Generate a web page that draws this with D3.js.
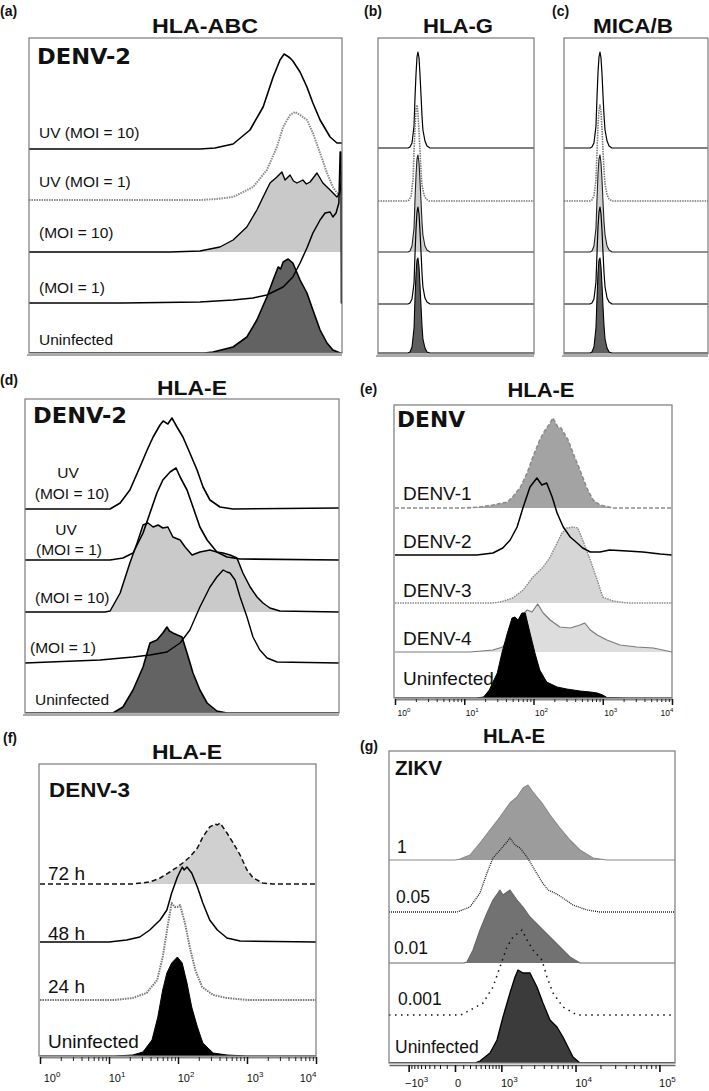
<!DOCTYPE html>
<html><head><meta charset="utf-8">
<script src="https://cdn.jsdelivr.net/npm/d3@7"></script>
<style>
body{margin:0;background:#fff}
svg{display:block}
text{font-family:"Liberation Sans",Arial,sans-serif;fill:#111}
</style>
</head><body>
<script>
// ---------------- DATA (x = channel / fluorescence, y = % of mode) ----------------
// (a) HLA-ABC, DENV-2  (unlabelled channel axis 0-1000)
const a_labels = ["UV (MOI = 10)", "UV (MOI = 1)", "(MOI = 10)", "(MOI = 1)", "Uninfected"];
const a_uvMoi10 = [[0,0],[546,0],[594,1],[652,5],[706,19],[748,42],[780,72],[802,89],[815,95],[825,93],[834,91],[843,88],[866,77],[888,62],[907,46],[930,29],[962,12],[984,6],[994,6],[1000,6]];
const a_uvMoi1 = [[0,0],[546,0],[600,1],[652,3],[716,13],[760,30],[792,53],[812,73],[834,85],[850,88],[866,85],[888,80],[907,67],[930,47],[952,27],[971,13],[984,7],[1000,5]];
const a_moi10 = [[0,0],[450,0],[546,1],[610,5],[652,12],[696,25],[728,42],[748,55],[770,69],[792,75],[808,80],[818,72],[834,77],[845,71],[856,69],[875,72],[886,68],[898,70],[920,79],[939,69],[962,62],[984,55],[994,60],[1000,80]];
const a_moi1 = [[0,0],[300,0],[546,1],[652,3],[716,5],[760,8],[812,16],[843,26],[866,40],[888,55],[907,70],[930,83],[946,90],[962,91],[971,86],[981,90],[990,100],[994,151],[997,151],[998,0],[1000,0]];
const a_uninf = [[0,0],[560,0],[588,1],[652,6],[696,16],[728,33],[760,56],[780,73],[796,86],[804,84],[812,91],[828,94],[843,90],[866,73],[888,60],[907,43],[930,23],[952,10],[971,3],[994,0],[1000,0]];

// (b) HLA-G
const b_uvMoi10 = [[0,0],[192,0],[205,1],[218,5],[231,22],[237,50],[244,75],[250,91],[256,96],[263,90],[269,74],[276,52],[282,32],[288,18],[301,7],[314,2],[333,0],[1000,0]];
const b_uvMoi1 = [[0,0],[186,0],[199,1],[212,5],[225,22],[231,50],[238,76],[244,92],[250,96],[256,88],[263,70],[270,48],[276,29],[282,16],[295,6],[308,2],[327,0],[1000,0]];
const b_moi10 = [[0,0],[192,0],[205,1],[218,6],[231,24],[237,52],[244,78],[250,93],[256,97],[263,89],[269,72],[276,50],[282,30],[288,17],[301,6],[314,2],[333,0],[1000,0]];
const b_moi1 = [[0,0],[192,0],[205,1],[218,5],[231,21],[237,49],[244,76],[250,92],[256,97],[263,90],[269,73],[276,51],[282,31],[288,17],[301,6],[314,2],[333,0],[1000,0]];
const b_uninf = [[0,0],[192,0],[205,1],[218,6],[231,25],[237,54],[244,80],[250,93],[256,95],[263,86],[269,68],[276,46],[282,27],[288,14],[301,5],[314,1],[333,0],[1000,0]];

// (c) MICA/B
const c_uvMoi10 = [[0,0],[181,0],[194,1],[208,5],[222,22],[229,50],[236,75],[243,91],[250,96],[257,90],[264,74],[271,52],[278,32],[285,18],[299,7],[313,2],[333,0],[1000,0]];
const c_uvMoi1 = [[0,0],[181,0],[194,1],[208,5],[222,21],[229,48],[236,75],[243,91],[250,96],[257,89],[264,72],[271,50],[278,30],[285,17],[299,6],[313,2],[333,0],[1000,0]];
const c_moi10 = [[0,0],[181,0],[194,1],[208,6],[222,24],[229,52],[236,78],[243,93],[250,97],[257,89],[264,72],[271,50],[278,30],[285,17],[299,6],[313,2],[333,0],[1000,0]];
const c_moi1 = [[0,0],[181,0],[194,1],[208,5],[222,22],[229,50],[236,77],[243,92],[250,97],[257,90],[264,73],[271,51],[278,31],[285,17],[299,6],[313,2],[333,0],[1000,0]];
const c_uninf = [[0,0],[181,0],[194,1],[208,6],[222,25],[229,54],[236,80],[243,93],[250,95],[257,86],[264,68],[271,46],[278,27],[285,14],[299,5],[313,1],[333,0],[1000,0]];

// (d) HLA-E, DENV-2
const d_labels = [["UV","(MOI = 10)"], ["UV","(MOI = 1)"], "(MOI = 10)", "(MOI = 1)", "Uninfected"];
const d_uvMoi10 = [[0,0],[271,0],[303,6],[334,19],[366,42],[389,59],[408,72],[430,84],[440,88],[455,85],[468,91],[484,82],[503,72],[525,56],[548,39],[567,22],[589,9],[621,2],[662,0],[1000,1]];
const d_uvMoi1 = [[0,0],[271,0],[312,2],[344,7],[376,27],[398,47],[420,67],[439,80],[462,88],[481,92],[494,83],[516,70],[535,53],[557,33],[580,20],[611,8],[643,3],[685,1],[1000,0]];
const d_moi10 = [[0,0],[255,0],[271,1],[303,19],[334,49],[357,69],[376,87],[392,89],[408,85],[424,87],[439,84],[455,85],[471,75],[494,72],[510,65],[532,57],[557,60],[589,62],[611,60],[631,59],[653,57],[675,54],[694,39],[717,25],[739,15],[758,9],[780,4],[812,1],[1000,0]];
const d_moi1 = [[0,0],[239,3],[344,6],[398,8],[452,11],[494,20],[525,33],[557,56],[589,76],[611,86],[631,93],[643,91],[653,90],[669,83],[685,66],[707,46],[726,26],[748,13],[771,5],[803,1],[1000,0]];
const d_uninf = [[0,0],[280,0],[312,6],[344,23],[376,46],[398,70],[420,73],[439,80],[452,86],[460,82],[471,80],[500,76],[516,60],[535,40],[557,23],[580,10],[611,2],[643,0],[1000,0]];

// (e) HLA-E, DENV serotypes (log fluorescence)
const e_labels = ["DENV-1", "DENV-2", "DENV-3", "DENV-4", "Uninfected"];
const e_denv1 = [[1,0],[10,0],[17,1],[26,3],[42,6],[50,11],[65,21],[81,35],[98,51],[123,68],[148,78],[174,85],[191,90],[224,81],[251,80],[269,76],[316,68],[372,55],[468,38],[589,20],[724,8],[912,3],[1413,0],[10000,0]];
const e_denv2 = [[1,0],[15,0],[20,1],[26,2],[36,7],[46,15],[58,28],[71,48],[89,68],[112,77],[132,70],[155,72],[186,58],[219,42],[269,28],[339,18],[427,12],[513,7],[661,3],[912,3],[1259,5],[2239,4],[3802,3],[6761,1],[10000,0]];
const e_denv3 = [[1,0],[25,0],[33,1],[50,5],[71,13],[98,26],[138,36],[174,46],[219,60],[257,70],[302,75],[372,76],[437,75],[513,63],[661,43],[832,23],[1000,6],[1413,2],[2239,0],[10000,0]];
const e_denv4 = [[1,0],[12,0],[18,1],[26,2],[36,5],[50,19],[65,35],[81,42],[95,40],[115,48],[138,39],[174,32],[240,25],[339,24],[468,27],[550,29],[661,22],[832,17],[1148,12],[1778,7],[3090,5],[5370,4],[10000,0]];
const e_uninf = [[1,0],[15,0],[19,1],[23,8],[30,25],[35,45],[42,65],[49,80],[54,81],[60,78],[68,85],[76,85],[89,65],[105,45],[123,28],[155,16],[219,11],[302,9],[468,7],[661,6],[832,5],[1000,3],[1148,0.5],[2239,0],[10000,0]];
const logTicks = [1, 10, 100, 1000, 10000];
const logTickExp = ["0", "1", "2", "3", "4"];

// (f) HLA-E, DENV-3 time course
const f_labels = ["72 h", "48 h", "24 h", "Uninfected"];
const f_72h = [[1,0],[22,0],[39,2],[55,6],[76,12],[98,17],[117,21],[148,27],[191,36],[229,47],[288,57],[347,60],[372,59],[407,61],[513,51],[631,41],[794,29],[1000,14],[1230,6],[1698,1],[2399,0],[10000,0]];
const f_48h = [[1,0],[10,0],[18,2],[28,5],[39,12],[55,22],[69,32],[81,49],[98,65],[115,75],[123,72],[135,75],[158,69],[191,55],[229,39],[288,22],[372,12],[513,4],[794,1],[10000,0]];
const f_24h = [[1,0],[12,0],[22,2],[35,7],[50,20],[60,43],[72,77],[81,97],[90,93],[98,93],[107,95],[126,77],[148,53],[178,30],[224,13],[324,5],[513,2],[1000,0],[10000,0]];
const f_uninf = [[1,0],[12,0],[22,1],[31,4],[42,16],[51,39],[60,66],[69,83],[81,93],[98,99],[115,93],[135,73],[158,49],[191,29],[229,13],[324,3],[513,1],[1000,0],[10000,0]];

// (g) HLA-E, ZIKV MOI (biexponential axis)
const g_labels = ["1", "0.05", "0.01", "0.001", "Uninfected"];
const g_moi1 = [[-1981,0],[0,0],[58,1],[200,5],[386,17],[630,30],[949,43],[1368,57],[1739,63],[2114,72],[2476,75],[2892,68],[3800,57],[4816,45],[6432,32],[8552,20],[11324,10],[16272,2],[23936,0],[152600,0]];
const g_moi005 = [[-1981,0],[22,0],[200,5],[386,19],[550,39],[717,54],[949,62],[1230,70],[1368,74],[1626,67],[1918,64],[2400,55],[2892,45],[3800,30],[4541,22],[5570,19],[7008,14],[9308,7],[13780,2],[19740,0],[152600,0]];
const g_moi001 = [[-1981,0],[110,0],[153,1],[251,13],[386,33],[550,50],[717,63],[949,73],[1063,68],[1368,73],[1739,63],[2114,56],[2636,46],[3578,36],[4816,26],[6432,16],[8552,6],[11324,0],[152600,0]];
const g_moi0001 = [[-1981,0],[58,0],[97,1],[453,12],[717,28],[949,48],[1230,68],[1519,78],[2047,85],[2400,75],[2892,65],[3800,55],[4405,38],[5256,22],[7008,8],[10416,0],[152600,0]];
const g_uninf = [[-1981,0],[280,0],[386,2],[630,10],[845,23],[1063,46],[1368,70],[1626,86],[1797,93],[2114,90],[2636,90],[3268,76],[3915,60],[4816,43],[5900,36],[7008,26],[9308,6],[11324,0],[152600,0]];
const biexTicks = [-1000, 0, 1000, 10000, 100000];
const biexLabels = [["−10","3"], ["0",""], ["10","3"], ["10","4"], ["10","5"]];

// ---------------- DRAWING ----------------
const svg = d3.select("body").append("svg").attr("width", 709).attr("height", 1091);
const defs = svg.append("defs");
const hScale = d3.scaleLinear().domain([0, 100]).range([0, 100]);

function drawPanel(p) {
  const g = svg.append("g");
  const cid = "clip-" + p.id;
  defs.append("clipPath").attr("id", cid).append("rect")
    .attr("x", p.x0).attr("y", p.y0 - 1).attr("width", p.x1 - p.x0).attr("height", p.y1 - p.y0 + 1);
  const gc = g.append("g").attr("clip-path", `url(#${cid})`);
  const area = c => d3.area().x(d => p.x(d[0])).y0(c.base).y1(d => c.base - hScale(d[1]));
  const line = c => d3.line().x(d => p.x(d[0])).y(d => c.base - hScale(d[1]));
  const drawFill = c => { if (c.fill) gc.append("path").datum(c.data).attr("d", area(c)).attr("fill", c.fill); };
  const drawStroke = c => gc.append("path").datum(c.data).attr("d", line(c))
      .attr("fill", "none").attr("stroke", c.stroke).attr("stroke-width", c.sw)
      .attr("stroke-dasharray", c.dash || null).attr("stroke-linejoin", "round");
  const normal = p.curves.filter(c => !c.top);
  normal.forEach(drawFill);
  normal.forEach(drawStroke);
  p.curves.filter(c => c.top).forEach(c => { drawFill(c); drawStroke(c); });
  g.append("rect").attr("x", p.x0).attr("y", p.y0).attr("width", p.x1 - p.x0).attr("height", p.y1 - p.y0)
    .attr("fill", "none").attr("stroke", "#7a7a7a").attr("stroke-width", 1.2);
  if (p.doubleBottom) {
    g.append("line").attr("x1", p.x0 - 2).attr("x2", p.x1).attr("y1", p.y1 + 2).attr("y2", p.y1 + 2)
      .attr("stroke", "#555").attr("stroke-width", 1);
  }
  // letter + title
  svg.append("text").attr("x", p.letter[0]).attr("y", p.letter[1]).text(p.letter[2])
    .attr("font-size", 14).attr("font-weight", "bold");
  svg.append("text").attr("x", p.title[0]).attr("y", p.title[1]).attr("text-anchor", "middle")
    .attr("font-size", 21).attr("font-weight", "bold").attr("textLength", p.title[3])
    .attr("lengthAdjust", "spacingAndGlyphs").text(p.title[2]);
  return g;
}

function label(x, y, t, size, opts = {}) {
  const el = svg.append("text").attr("x", x).attr("y", y).attr("font-size", size).text(t);
  if (opts.anchor) el.attr("text-anchor", opts.anchor);
  if (opts.bold) el.attr("font-weight", "bold");
  if (opts.family) el.style("font-family", opts.family);
  if (opts.len) el.attr("textLength", opts.len).attr("lengthAdjust", "spacingAndGlyphs");
  return el;
}

// -------- (a) --------
const xa = d3.scaleLinear().domain([0, 1000]).range([29, 342]);
drawPanel({
  id: "a", x: xa, x0: 29, x1: 342, y0: 38, y1: 353, doubleBottom: true,
  letter: [0, 16, "(a)"], title: [205, 33, "HLA-ABC", 106],
  curves: [
    {data: a_uvMoi10, base: 149, stroke: "#000", sw: 1.6},
    {data: a_uvMoi1, base: 200, stroke: "#8a8a8a", sw: 2, dash: "1.5,1"},
    {data: a_moi10, base: 252, fill: "#c9c9c9", stroke: "#000", sw: 1.4},
    {data: a_moi1, base: 303, stroke: "#000", sw: 1.5},
    {data: a_uninf, base: 353, fill: "#626262", stroke: "#000", sw: 1.6}
  ]
});
label(37, 64, "DENV-2", 21, {bold: true, family: "'DejaVu Sans'", len: 94});
[138, 187, 238, 293, 345].forEach((y, i) => label(39, y, a_labels[i], 15.5));

// -------- (b) --------
const xb = d3.scaleLinear().domain([0, 1000]).range([378, 534]);
drawPanel({
  id: "b", x: xb, x0: 378, x1: 534, y0: 38, y1: 354, doubleBottom: true,
  letter: [364, 16, "(b)"], title: [458, 33, "HLA-G", 70],
  curves: [
    {data: b_uvMoi10, base: 148, stroke: "#000", sw: 1.2},
    {data: b_uvMoi1, base: 201, stroke: "#777", sw: 1.6, dash: "1.5,1"},
    {data: b_moi10, base: 252, fill: "#cfcfcf", stroke: "#222", sw: 1.1},
    {data: b_moi1, base: 304, stroke: "#000", sw: 1.2},
    {data: b_uninf, base: 353, fill: "#5e5e5e", stroke: "#000", sw: 1.1}
  ]
});

// -------- (c) --------
const xc = d3.scaleLinear().domain([0, 1000]).range([564, 708]);
drawPanel({
  id: "c", x: xc, x0: 564, x1: 708, y0: 38, y1: 354, doubleBottom: true,
  letter: [552, 16, "(c)"], title: [633, 33, "MICA/B", 80],
  curves: [
    {data: c_uvMoi10, base: 148, stroke: "#000", sw: 1.2},
    {data: c_uvMoi1, base: 201, stroke: "#777", sw: 1.6, dash: "1.5,1"},
    {data: c_moi10, base: 252, fill: "#cfcfcf", stroke: "#222", sw: 1.1},
    {data: c_moi1, base: 304, stroke: "#000", sw: 1.2},
    {data: c_uninf, base: 353, fill: "#5e5e5e", stroke: "#000", sw: 1.1}
  ]
});

// -------- (d) --------
const xd = d3.scaleLinear().domain([0, 1000]).range([25, 339]);
drawPanel({
  id: "d", x: xd, x0: 25, x1: 339, y0: 399, y1: 713, doubleBottom: true,
  letter: [0, 385, "(d)"], title: [192, 395, "HLA-E", 70],
  curves: [
    {data: d_uvMoi10, base: 509, stroke: "#000", sw: 1.6},
    {data: d_uvMoi1, base: 560, stroke: "#000", sw: 1.6},
    {data: d_moi10, base: 612, fill: "#cacaca", stroke: "#000", sw: 1.5},
    {data: d_moi1, base: 663, stroke: "#000", sw: 1.4},
    {data: d_uninf, base: 713, fill: "#636363", stroke: "#000", sw: 1.6}
  ]
});
label(33, 423, "DENV-2", 21, {bold: true, family: "'DejaVu Sans'", len: 94});
label(68, 478, d_labels[0][0], 15.5, {anchor: "middle"});
label(72, 499, d_labels[0][1], 15.5, {anchor: "middle"});
label(66, 535, d_labels[1][0], 15.5, {anchor: "middle"});
label(69, 555, d_labels[1][1], 15.5, {anchor: "middle"});
label(35, 603, d_labels[2], 15.5);
label(30, 653, d_labels[3], 15.5);
label(35, 705, d_labels[4], 15.5);

// axis helper
function logAxis(x, y, ticks, exps, opt) {
  const minors = [];
  for (let k = 0; k < ticks.length - 1; k++) for (let m = 2; m <= 9; m++) minors.push(ticks[k] * m);
  const gMin = svg.append("g").attr("transform", `translate(0,${y})`)
    .call(d3.axisBottom(x).tickValues(minors).tickSize(opt.minor).tickSizeOuter(0).tickFormat(""));
  gMin.select(".domain").attr("stroke", "#888").attr("stroke-width", 2);
  gMin.selectAll(".tick line").attr("stroke", "#222");
  const gMaj = svg.append("g").attr("transform", `translate(0,${y})`)
    .call(d3.axisBottom(x).tickValues(ticks).tickSize(opt.major).tickSizeOuter(0).tickFormat(""));
  gMaj.select(".domain").remove();
  gMaj.selectAll(".tick line").attr("stroke", "#111").attr("stroke-width", 1.5);
  ticks.forEach((t, i) => {
    const off = i === 0 ? opt.offFirst : (i === ticks.length - 1 ? opt.offLast : opt.off);
    const tx = svg.append("text").attr("x", x(t) + off).attr("y", opt.ly).attr("text-anchor", "middle")
      .attr("font-size", opt.fs).attr("fill", "#222");
    tx.append("tspan").text("10");
    tx.append("tspan").attr("dy", -opt.fs * 0.45).attr("font-size", opt.fs * 0.72).text(exps[i]);
  });
}

// -------- (e) --------
const xe = d3.scaleLog().domain([1, 10000]).range([395, 672]);
drawPanel({
  id: "e", x: xe, x0: 394, x1: 672, y0: 405, y1: 698,
  letter: [360, 394, "(e)"], title: [541, 397, "HLA-E", 67],
  curves: [
    {data: e_denv1, base: 508, fill: "#a3a3a3", stroke: "#8c8c8c", sw: 1.6, dash: "4,2"},
    {data: e_denv3, base: 603, fill: "#d6d6d6", stroke: "#888", sw: 1.4, dash: "1.5,1"},
    {data: e_denv2, base: 555, stroke: "#000", sw: 1.5},
    {data: e_denv4, base: 652, fill: "#dddddd", stroke: "#7a7a7a", sw: 1.2},
    {data: e_uninf, base: 698, fill: "#000", stroke: "#000", sw: 1, top: true}
  ]
});
logAxis(xe, 699, logTicks, logTickExp, {minor: 3, major: 6, fs: 8.5, ly: 716, off: 8, offFirst: 9, offLast: -5});
label(397, 427, "DENV", 21, {bold: true, family: "'DejaVu Sans'", len: 68});
[500, 548, 597, 645, 685].forEach((y, i) => label(403, y, e_labels[i], 19));

// -------- (f) --------
const xf = d3.scaleLog().domain([1, 10000]).range([40, 316]);
drawPanel({
  id: "f", x: xf, x0: 39, x1: 316, y0: 764, y1: 1056,
  letter: [3, 743, "(f)"], title: [187, 759, "HLA-E", 70],
  curves: [
    {data: f_72h, base: 884, fill: "#d0d0d0", stroke: "#111", sw: 1.5, dash: "5,3"},
    {data: f_48h, base: 942, stroke: "#000", sw: 1.5},
    {data: f_24h, base: 1000, stroke: "#777", sw: 2, dash: "1.5,1"},
    {data: f_uninf, base: 1056, fill: "#000", stroke: "#000", sw: 1, top: true}
  ]
});
logAxis(xf, 1057, logTicks, logTickExp, {minor: 4, major: 7, fs: 11, ly: 1082, off: 8, offFirst: 12, offLast: -8});
label(49, 797, "DENV-3", 21, {bold: true, len: 81});
[880, 940, 993, 1048].forEach((y, i) => label(48, y, f_labels[i], 19));

// -------- (g) --------
const xg = d3.scaleSymlog().constant(400).domain([-1981, 152600]).range([389, 675]);
drawPanel({
  id: "g", x: xg, x0: 389, x1: 675, y0: 751, y1: 1063,
  letter: [360, 751, "(g)"], title: [514, 743, "HLA-E", 62],
  curves: [
    {data: g_moi1, base: 860, fill: "#9c9c9c", stroke: "#8a8a8a", sw: 1.1},
    {data: g_moi005, base: 912, stroke: "#222", sw: 1.3, dash: "1,1"},
    {data: g_moi001, base: 963, fill: "#727272", stroke: "#666", sw: 1.1},
    {data: g_moi0001, base: 1015, stroke: "#111", sw: 1.5, dash: "1.5,4.5"},
    {data: g_uninf, base: 1063, fill: "#3b3b3b", stroke: "#000", sw: 1.3}
  ]
});
(function () {
  const minors = [];
  for (let v = -900; v <= -100; v += 100) minors.push(v);
  for (let v = 100; v <= 900; v += 100) minors.push(v);
  for (let v = 2000; v <= 9000; v += 1000) minors.push(v);
  for (let v = 20000; v <= 90000; v += 10000) minors.push(v);
  const y = 1065;
  const gMin = svg.append("g").attr("transform", `translate(0,${y})`)
    .call(d3.axisBottom(xg).tickValues(minors).tickSize(4).tickSizeOuter(0).tickFormat(""));
  gMin.select(".domain").attr("stroke", "#666").attr("stroke-width", 1.3);
  gMin.selectAll(".tick line").attr("stroke", "#111");
  const gMaj = svg.append("g").attr("transform", `translate(0,${y})`)
    .call(d3.axisBottom(xg).tickValues(biexTicks).tickSize(7).tickSizeOuter(0).tickFormat(""));
  gMaj.select(".domain").remove();
  gMaj.selectAll(".tick line").attr("stroke", "#111").attr("stroke-width", 1.6);
  biexTicks.forEach((t, i) => {
    const off = i === 1 ? 3 : 8;
    const tx = svg.append("text").attr("x", xg(t) + off).attr("y", 1087).attr("text-anchor", "middle")
      .attr("font-size", 11).attr("fill", "#222");
    tx.append("tspan").text(biexLabels[i][0]);
    if (biexLabels[i][1]) tx.append("tspan").attr("dy", -5).attr("font-size", 8).text(biexLabels[i][1]);
  });
})();
label(395, 775, "ZIKV", 20, {bold: true, len: 47});
label(397, 853, g_labels[0], 17.5);
label(396, 903, g_labels[1], 17.5);
label(394, 954, g_labels[2], 17.5);
label(398, 1005, g_labels[3], 17.5);
label(395, 1053, g_labels[4], 17.5);
</script>
</body></html>
